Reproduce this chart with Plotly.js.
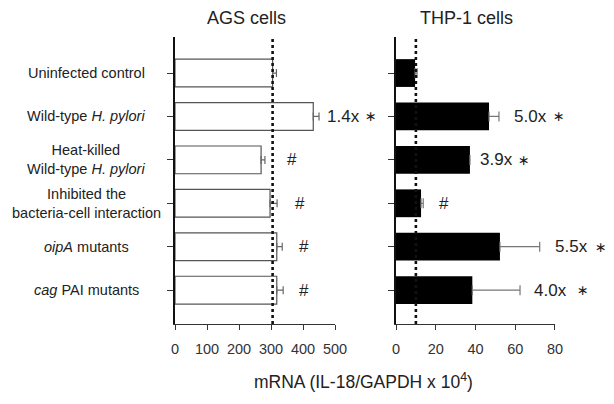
<!DOCTYPE html>
<html>
<head>
<meta charset="utf-8">
<script src="https://cdn.plot.ly/plotly-3.0.1.min.js"></script>
<style>html,body{margin:0;padding:0;background:#fff;}#chart{width:614px;height:404px;}</style>
</head>
<body>
<div id="chart"></div>
<script>
// ---- data ----
const categories = [
  'Uninfected control',
  'Wild-type <i>H. pylori</i>',
  'Heat-killed<br>Wild-type <i>H. pylori</i>',
  'Inhibited the<br>bacteria-cell interaction',
  '<i>oipA</i> mutants',
  '<i>cag</i> PAI mutants'
];
const agsValues = [305, 432, 269, 297, 318, 318];
const agsErr    = [12, 18, 12, 22, 17, 20];
const thpValues = [9.6, 46.8, 37.2, 12.6, 52.3, 38.4];
const thpErr    = [1, 5, 0, 1.1, 20, 24];
const agsBaseline = 305;
const thpBaseline = 10;
const agsMarks  = ['', '1.4x', '#', '#', '#', '#'];
const agsStars  = [false, true, false, false, false, false];
const agsMarkX  = [null, 469, 344, 369, 381, 381];
const thpMarks  = ['', '5.0x', '3.9x', '#', '5.5x', '4.0x'];
const thpStars  = [false, true, true, false, true, true];
const thpMarkX  = [null, 58.4, 41.3, 20.6, 79, 68.4];
const agsTicks = [0, 100, 200, 300, 400, 500];
const thpTicks = [0, 20, 40, 60, 80];
const panelTitles = ['AGS cells', 'THP-1 cells'];
const xTitle = 'mRNA (IL-18/GAPDH x 10<sup>4</sup>)';

// star offsets (pixels, from start of fold-change label to star centre)
const agsStarShift = [0, 46, 0, 0, 0, 0];
const thpStarShift = [0, 47, 46, 0, 48, 51];

const zeros = categories.map(() => 0);
const FONT = 'Liberation Sans, Arial, Helvetica, sans-serif';

const traces = [
  {
    type: 'bar', orientation: 'h', x: agsValues, y: categories,
    xaxis: 'x', yaxis: 'y', width: 0.64,
    marker: {color: '#ffffff', line: {color: '#555555', width: 1.2}},
    error_x: {type: 'data', symmetric: false, array: agsErr, arrayminus: zeros,
              color: '#666666', thickness: 1.2, width: 4},
    hoverinfo: 'x'
  },
  {
    type: 'bar', orientation: 'h', x: thpValues, y: categories,
    xaxis: 'x2', yaxis: 'y2', width: 0.64,
    marker: {color: '#000000', line: {color: '#000000', width: 0}},
    error_x: {type: 'data', symmetric: false, array: thpErr, arrayminus: zeros,
              color: '#777777', thickness: 1.2, width: 5},
    hoverinfo: 'x'
  }
];

const xCommon = {
  showline: true, linecolor: '#333', linewidth: 1,
  ticks: 'outside', ticklen: 5, tickcolor: '#333', tickwidth: 1,
  showgrid: false, zeroline: false,
  tickfont: {size: 14.5, color: '#333', family: FONT},
  ticklabelstandoff: 7, fixedrange: true
};
const yCommon = {
  type: 'category', categoryorder: 'array', categoryarray: categories,
  range: [5.78, -0.83], autorange: false,
  showline: true, linecolor: '#111', linewidth: 1.6,
  ticks: 'outside', ticklen: 6, tickcolor: '#333', tickwidth: 1,
  showticklabels: false, showgrid: false, zeroline: false, fixedrange: true
};

const annotations = [];
function addMark(xref, yref, x, y, text, star, shift) {
  annotations.push({
    xref: xref, yref: yref, x: x, y: y, text: text, showarrow: false,
    xanchor: 'left', yanchor: 'middle', font: {size: 17, color: '#222', family: FONT}
  });
  if (star) annotations.push({
    xref: xref, yref: yref, x: x, y: y, text: '\u2217', showarrow: false,
    xanchor: 'center', yanchor: 'middle', xshift: shift, yshift: 0,
    font: {size: 14, color: '#222', family: 'DejaVu Sans, sans-serif'}
  });
}
categories.forEach((c, i) => {
  annotations.push({
    xref: 'paper', yref: 'y', x: -0.234, y: c, text: c, showarrow: false,
    xanchor: 'center', yanchor: 'middle', align: 'center',
    font: {size: 14.5, color: '#222', family: FONT}
  });
  if (agsMarks[i]) addMark('x', 'y', agsMarkX[i], c, agsMarks[i], agsStars[i], agsStarShift[i]);
  if (thpMarks[i]) addMark('x2', 'y2', thpMarkX[i], c, thpMarks[i], thpStars[i], thpStarShift[i]);
});
annotations.push(
  {xref: 'paper', yref: 'paper', x: 0.189, y: 1.066, text: panelTitles[0], showarrow: false,
   xanchor: 'center', yanchor: 'middle', font: {size: 18, color: '#222', family: FONT}},
  {xref: 'paper', yref: 'paper', x: 0.768, y: 1.066, text: panelTitles[1], showarrow: false,
   xanchor: 'center', yanchor: 'middle', font: {size: 18, color: '#222', family: FONT}},
  {xref: 'paper', yref: 'paper', x: 0.495, y: -0.199, text: xTitle, showarrow: false,
   xanchor: 'center', yanchor: 'middle', font: {size: 17.5, color: '#222', family: FONT}}
);

const layout = {
  width: 614, height: 404,
  margin: {l: 175, r: 59, t: 37, b: 80, pad: 0},
  paper_bgcolor: '#ffffff', plot_bgcolor: '#ffffff',
  showlegend: false,
  font: {family: FONT, color: '#222'},
  xaxis: Object.assign({}, xCommon, {domain: [0, 0.4211], range: [0, 500], tickvals: agsTicks, anchor: 'y'}),
  xaxis2: Object.assign({}, xCommon, {domain: [0.5816, 1], range: [0, 80], tickvals: thpTicks, anchor: 'y2'}),
  yaxis: Object.assign({}, yCommon, {anchor: 'x'}),
  yaxis2: Object.assign({}, yCommon, {anchor: 'x2'}),
  shapes: [
    {type: 'line', xref: 'x', yref: 'paper', x0: agsBaseline, x1: agsBaseline, y0: 0, y1: 1,
     line: {color: '#111', width: 2.6, dash: 'dot'}, layer: 'above'},
    {type: 'line', xref: 'x2', yref: 'paper', x0: thpBaseline, x1: thpBaseline, y0: 0, y1: 1,
     line: {color: '#111', width: 2.6, dash: 'dot'}, layer: 'above'}
  ],
  annotations: annotations
};

Plotly.newPlot('chart', traces, layout, {staticPlot: true, displayModeBar: false});
</script>
</body>
</html>
